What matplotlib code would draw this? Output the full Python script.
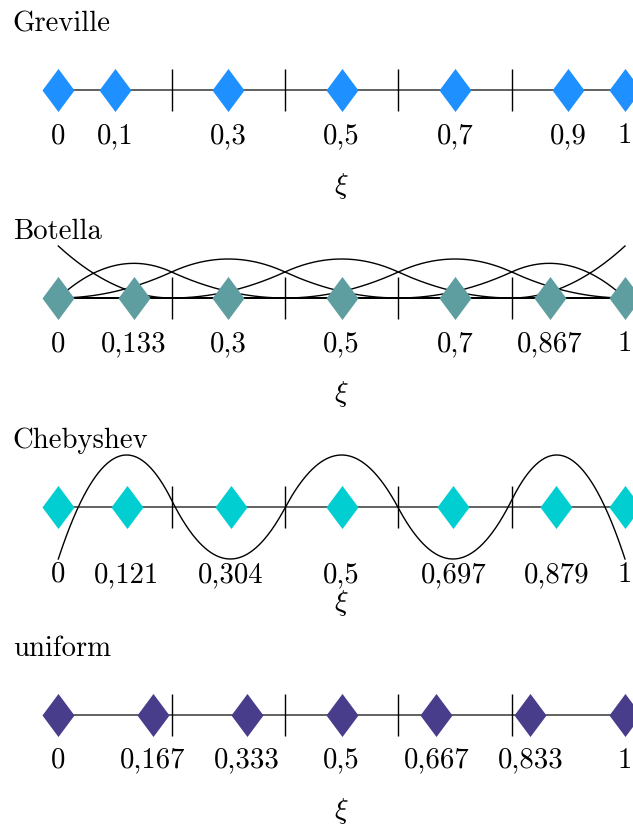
import numpy as np
import matplotlib
matplotlib.use('Agg')
import matplotlib.pyplot as plt
from matplotlib.path import Path

plt.rcParams['font.family'] = 'cmr10'
plt.rcParams['mathtext.fontset'] = 'cm'
plt.rcParams['axes.formatter.use_mathtext'] = True

# ---------------- data ----------------
knots = [0.2, 0.4, 0.6, 0.8]          # interior knots (tick marks)
spline_degree = 2

titles = ['Greville', 'Botella', 'Chebyshev', 'uniform']

greville_pts = [0, 0.1, 0.3, 0.5, 0.7, 0.9, 1]
greville_labels = ['0', '0,1', '0,3', '0,5', '0,7', '0,9', '1']

botella_pts = [0, 0.133, 0.3, 0.5, 0.7, 0.867, 1]
botella_labels = ['0', '0,133', '0,3', '0,5', '0,7', '0,867', '1']

chebyshev_pts = [0, 0.121, 0.304, 0.5, 0.697, 0.879, 1]
chebyshev_labels = ['0', '0,121', '0,304', '0,5', '0,697', '0,879', '1']
chebyshev_extrema = [-1, 1, -1, 1, -1, 1, -1]   # spline values at the nodes

uniform_pts = [0, 0.167, 0.333, 0.5, 0.667, 0.833, 1]
uniform_labels = ['0', '0,167', '0,333', '0,5', '0,667', '0,833', '1']

colors = ['#1E90FF', '#5F9EA0', '#00CED1', '#483D8B']
xlabel = r'$\xi$'

# ---------------- helpers ----------------
full_knots = [0.0] * (spline_degree + 1) + knots + [1.0] * (spline_degree + 1)


def bspline_basis(t, k, x):
    x = np.asarray(x, float)
    m = len(t) - 1
    B = np.zeros((len(x), m))
    for i in range(m):
        if t[i] < t[i + 1]:
            B[:, i] = (x >= t[i]) & (x < t[i + 1])
    last = max(i for i in range(m) if t[i] < t[i + 1])
    B[x >= t[-1], last] = 1.0
    for d in range(1, k + 1):
        Bn = np.zeros((len(x), m - d))
        for i in range(m - d):
            val = np.zeros(len(x))
            if t[i + d] > t[i]:
                val += (x - t[i]) / (t[i + d] - t[i]) * B[:, i]
            if t[i + d + 1] > t[i + 1]:
                val += (t[i + d + 1] - x) / (t[i + d + 1] - t[i + 1]) * B[:, i + 1]
            Bn[:, i] = val
        B = Bn
    return B


W, H = 633, 825
fig = plt.figure(figsize=(W / 100, H / 100), dpi=100)

x0_px, x1_px = 58.3, 625.0
unit_px = 52.0
line_y = [90.3, 298.0, 507.0, 714.5]
label_off = [53, 53, 75, 53]
fs = 20.7

diamond = Path([(0, 0.5), (0.372, 0), (0, -0.5), (-0.372, 0), (0, 0.5)],
               [Path.MOVETO, Path.LINETO, Path.LINETO, Path.LINETO, Path.CLOSEPOLY])

pts_all = [greville_pts, botella_pts, chebyshev_pts, uniform_pts]
labels_all = [greville_labels, botella_labels, chebyshev_labels, uniform_labels]

xs = np.linspace(0, 1, 800)
basis = bspline_basis(full_knots, spline_degree, xs)

for p in range(4):
    ly = line_y[p]
    ax = fig.add_axes([x0_px / W, 1 - (ly + unit_px) / H, (x1_px - x0_px) / W, 2 * unit_px / H])
    ax.set_xlim(0, 1)
    ax.set_ylim(-1, 1)
    ax.axis('off')

    ax.axhline(0, 0, 1, color='#555555', lw=1.3, zorder=1)
    ax.vlines(knots, -21 / unit_px, 21 / unit_px, color='black', lw=1.0, zorder=2)

    if titles[p] == 'Botella':
        for j in range(basis.shape[1]):
            ax.plot(xs, basis[:, j], color='black', lw=1.0, zorder=3, clip_on=False)
    if titles[p] == 'Chebyshev':
        A = bspline_basis(full_knots, spline_degree, chebyshev_pts)
        coef = np.linalg.solve(A, np.array(chebyshev_extrema, float))
        ax.plot(xs, basis @ coef, color='black', lw=1.0, zorder=3, clip_on=False)

    ax.plot(pts_all[p], np.zeros(len(pts_all[p])), linestyle='none', marker=diamond,
            markersize=31, markeredgewidth=0, color=colors[p], zorder=4, clip_on=False)

    for xv, lab in zip(pts_all[p], labels_all[p]):
        ax.text(xv, -label_off[p] / unit_px, lab, ha='center', va='baseline', fontsize=fs)

    ax.text(0.5, -96 / unit_px, xlabel, ha='center', va='center', fontsize=fs)

    fig.text(12.7 / W, 1 - (ly - 59) / H, titles[p], ha='left', va='baseline', fontsize=fs)

fig.savefig('out.png', dpi=100)
